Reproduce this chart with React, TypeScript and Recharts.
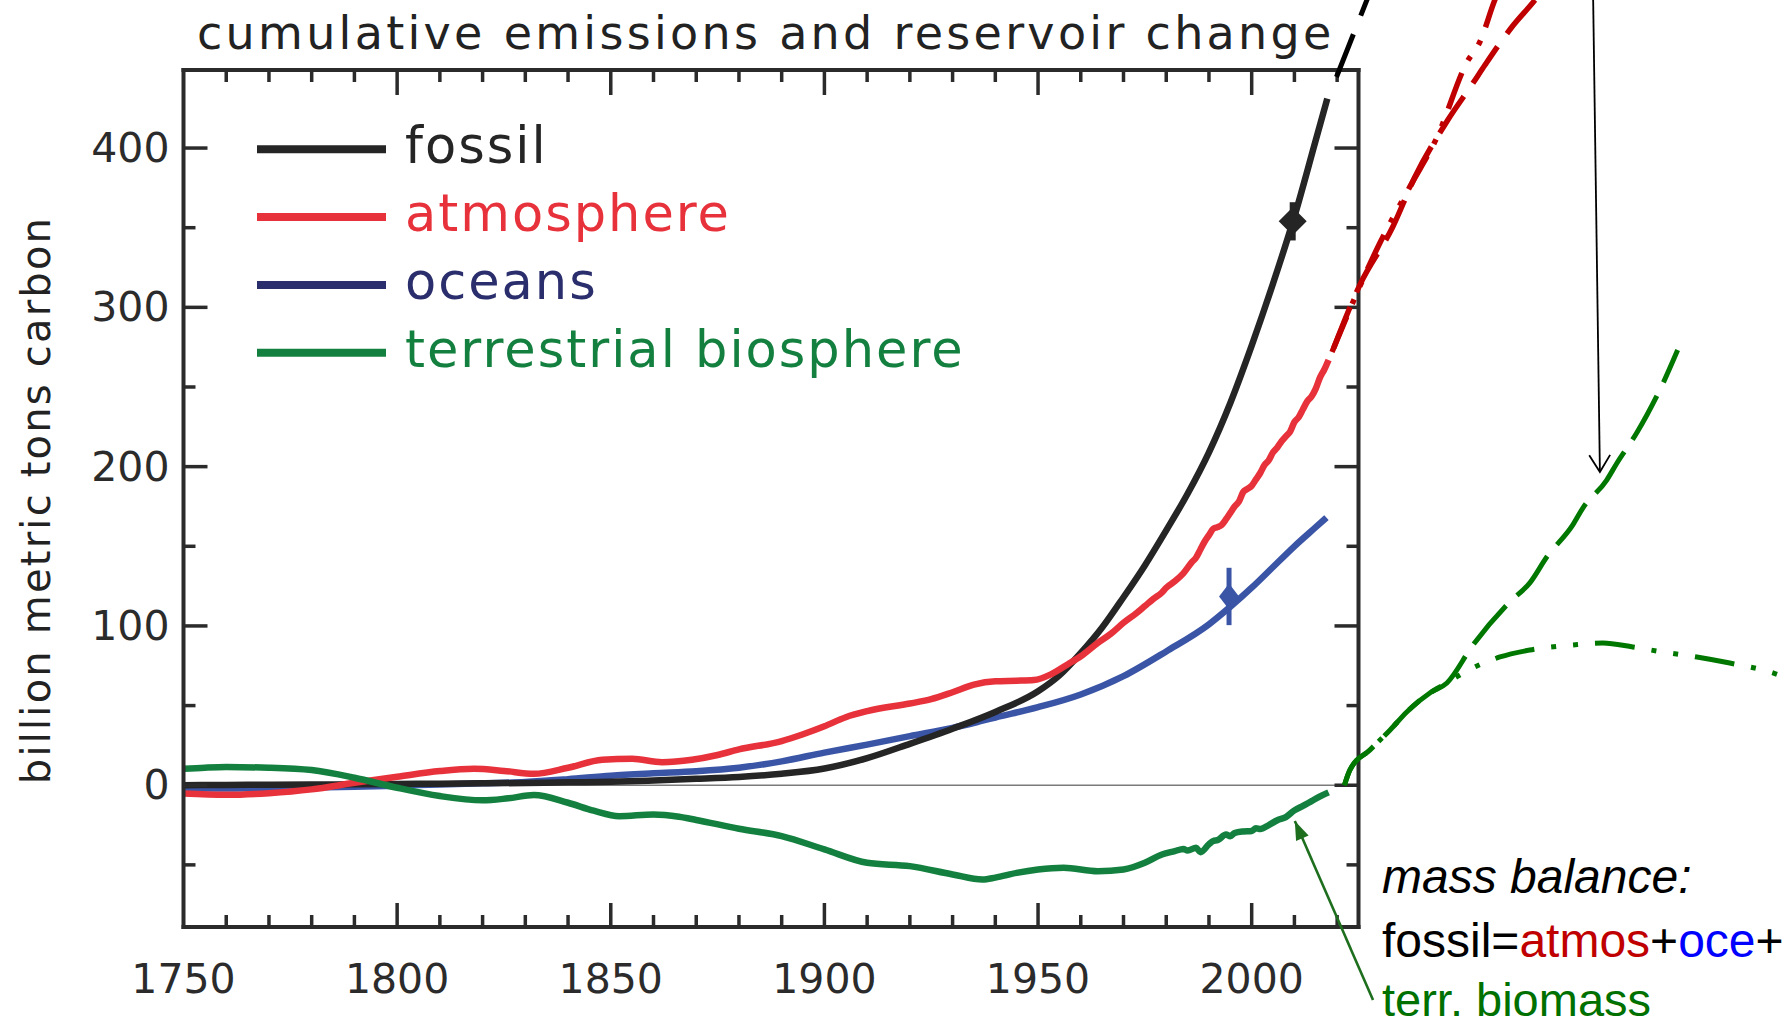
import React from 'react';
import { ComposedChart, LineChart, Line, XAxis, YAxis, ReferenceLine, Scatter, ErrorBar } from 'recharts';

// ---------------- data ----------------
const fossilYears = [1750, 1760, 1770, 1780, 1790, 1800, 1810, 1820, 1830, 1840, 1850, 1860, 1870, 1880, 1890, 1900, 1910, 1920, 1930, 1940, 1950, 1955, 1960, 1965, 1970, 1975, 1980, 1985, 1990, 1995, 2000, 2005, 2010, 2015, 2017.7];
const fossilValues = [0, 0.2, 0.3, 0.4, 0.6, 0.8, 1.0, 1.2, 1.4, 1.8, 2.2, 3.0, 4.0, 5.2, 7.2, 10.5, 17, 26, 35.5, 46, 59, 69, 83, 99, 118, 138, 160, 183, 209, 240, 276, 315, 357, 405, 431];

const atmosYears = [1750, 1760, 1770, 1780, 1790, 1800, 1810, 1818, 1825, 1832, 1840, 1848, 1855, 1862, 1869, 1875, 1880, 1890, 1895, 1900, 1905, 1910, 1920, 1925, 1930, 1935, 1940, 1945, 1949, 1953, 1957, 1960, 1964, 1967, 1970, 1973, 1975, 1977, 1979, 1980, 1982, 1984, 1986, 1987, 1988, 1989, 1990, 1991, 1992, 1993, 1994, 1995, 1996, 1997, 1998, 1999, 2000, 2001, 2002, 2003, 2004, 2005, 2006, 2007, 2008, 2009, 2010, 2011, 2012, 2013, 2014, 2015, 2016, 2017, 2018];
const atmosValues = [-5.2, -6, -5, -2.6, 1.5, 5.3, 8.9, 10.3, 9, 7.2, 11, 16, 16.6, 14.5, 16, 19, 22.5, 27.7, 32, 37, 42.7, 46.5, 51.3, 54, 58.4, 63.2, 65.3, 65.6, 66, 69.6, 76, 81, 89.4, 95, 102, 108, 112.5, 117, 121, 124, 128, 133, 140, 143, 148, 153, 157, 161, 162, 163.5, 167, 171, 175, 178, 184, 186, 188, 192, 196, 201, 204, 209, 212, 216, 219, 222, 228, 231, 236, 241, 244, 249, 256, 261, 267];

const oceanYears = [1750, 1760, 1770, 1780, 1790, 1800, 1810, 1820, 1830, 1840, 1850, 1860, 1870, 1880, 1890, 1900, 1910, 1920, 1930, 1937, 1940, 1950, 1960, 1970, 1980, 1990, 1995, 2000, 2005, 2010, 2015, 2017.5];
const oceanValues = [-2, -2, -1.8, -1.5, -1, -0.3, 0.5, 1.2, 2, 3.8, 6, 7.5, 8.8, 11, 15, 20.5, 25.5, 30.8, 36, 40.5, 42.5, 49, 57, 68.5, 84, 101, 112, 124, 137, 150, 162, 168];

const terrYears = [1750, 1755, 1760, 1770, 1780, 1790, 1800, 1810, 1820, 1826, 1832, 1840, 1846, 1852, 1860, 1866, 1870, 1880, 1890, 1900, 1910, 1920, 1930, 1937, 1940, 1945, 1950, 1956, 1964, 1970, 1975, 1979, 1982, 1984, 1985, 1987, 1988, 1990, 1991, 1992, 1994, 1995, 1996, 1998, 2000, 2001, 2002, 2004, 2006, 2008, 2010, 2012, 2014, 2016, 2018];
const terrValues = [10.3, 11, 11.4, 11, 9.5, 4.7, -1.6, -6.8, -9.5, -8.2, -6.2, -11, -16, -19.4, -18.3, -19.8, -21.8, -27.3, -31.9, -40.3, -48.7, -50.8, -56, -59.2, -58, -55, -52.9, -51.8, -54, -52.9, -48.7, -43.5, -41.4, -40, -41, -39.3, -42, -37, -35, -34.5, -31, -32, -30, -29, -28.7, -27, -27.5, -25, -22, -20, -15.8, -13, -10, -7, -4.5];

// observation markers (year, value, +/- error)
const fossilMarkerYear = [2009.6];
const fossilMarkerValue = [354];
const fossilMarkerErr = [12];
const oceanMarkerYear = [1994.7];
const oceanMarkerValue = [118.5];
const oceanMarkerErr = [18];

// extensions drawn beyond the box
const blackExtYears = [2019.85, 2028.0];
const blackExtValues = [444.6, 500];
const redDashDotYears = [2018.8, 2030.0, 2037.0, 2043.4, 2050.4, 2053.4, 2056.9, 2058.0];
const redDashDotValues = [272.0, 340.4, 375.6, 406.9, 454.0, 466.6, 492.9, 500];
const redDashYears = [2019.2, 2025.3, 2033.0, 2038.2, 2045.9, 2051.8, 2054.6, 2060.9, 2066.3, 2067.5];
const redDashValues = [274.5, 314.0, 350.4, 381.8, 417.6, 440.8, 452.1, 476.0, 492.9, 497];
const greenDashYears = [2021.7, 2023.0, 2027.7, 2032.4, 2036.3, 2041.7, 2045.7, 2051.8, 2060.4, 2065.1, 2069.1, 2075.2, 2077.5, 2083.1, 2085.5, 2090.1, 2092.5, 2096.3, 2099.7];
const greenDashValues = [0, 9.6, 22.2, 34.7, 46.0, 57.9, 64.2, 88.1, 115.1, 127.0, 143.4, 163.6, 174.0, 191.6, 202.3, 221.1, 232.4, 252.5, 273.2];
const greenDashDotYears = [2021.7, 2023.0, 2027.7, 2032.4, 2036.3, 2041.7, 2045.7, 2048.7, 2058.1, 2065.1, 2075.2, 2082.2, 2089.2, 2096.3, 2104.2, 2111.9, 2122.0, 2126.4];
const greenDashDotValues = [0, 9.6, 22.2, 34.7, 46.0, 57.9, 64.2, 69.2, 80.5, 84.9, 88.1, 89.3, 86.8, 83.6, 80.5, 76.7, 70.5, 66.1];

// annotation arrows [year, value]
const blackArrowFrom = [2079.9, 497];
const blackArrowTo = [2081.5, 196.6];
const greenArrowFrom = [2028.4, -134.8];
const greenArrowTo = [2010.1, -22.5];

// ticks
const xTicks = [1750, 1760, 1770, 1780, 1790, 1800, 1810, 1820, 1830, 1840, 1850, 1860, 1870, 1880, 1890, 1900, 1910, 1920, 1930, 1940, 1950, 1960, 1970, 1980, 1990, 2000, 2010, 2020];
const yTicks = [-50, 0, 50, 100, 150, 200, 250, 300, 350, 400];

const legendLabels = ['fossil', 'atmosphere', 'oceans', 'terrestrial biosphere'];

// ---------------- layout / style ----------------
const W = 1791;
const H = 1028;
const BOX = { left: 183.5, top: 70, right: 1358.5, bottom: 927 };
const AXIS_T = 1; // thickness reserved by each axis
const X_DOMAIN: [number, number] = [1750, 2025];
const Y_DOMAIN: [number, number] = [-89, 449];
const pxPerYear = (BOX.right - BOX.left) / (X_DOMAIN[1] - X_DOMAIN[0]);
const pxPerUnit = (BOX.bottom - BOX.top) / (Y_DOMAIN[1] - Y_DOMAIN[0]);
const EXT_X: [number, number] = [X_DOMAIN[0] - BOX.left / pxPerYear, X_DOMAIN[1] + (W - BOX.right) / pxPerYear];
const EXT_Y: [number, number] = [Y_DOMAIN[0] - (H - BOX.bottom) / pxPerUnit, Y_DOMAIN[1] + BOX.top / pxPerUnit];

const AX = '#2b2b2b';
const FONT = "'DejaVu Sans', sans-serif";
const ANN_FONT = "'Liberation Sans', Arial, sans-serif";
const C_FOSSIL = '#252525';
const C_ATMOS = '#e8323b';
const C_OCEAN = '#3a55a6';
const C_OCEAN_LEG = '#2b2e6c';
const C_TERR = '#13803f';
const C_RED_EXT = '#c00000';
const C_GREEN_EXT = '#007800';
const legendColors = [C_FOSSIL, C_ATMOS, C_OCEAN_LEG, C_TERR];
const LW = 6.5;

const rows = (years: number[], values: number[]) => years.map((year, i) => ({ year, v: values[i] }));
const markerRows = (years: number[], values: number[], errs: number[]) =>
  years.map((year, i) => ({ year, v: values[i], err: errs[i] }));

// ---------------- tick renderers ----------------
function BottomTick(props: any) {
  const { x, y, payload } = props;
  const major = payload.value % 50 === 0;
  return (
    <g>
      {payload.value !== X_DOMAIN[0] && (
        <line x1={x} y1={y} x2={x} y2={y - (major ? 24 : 12)} stroke={AX} strokeWidth={3.5} />
      )}
      {major && (
        <text x={x} y={y + 52} textAnchor="middle" dominantBaseline="central" fontSize={41} fontFamily={FONT} fill={AX}>
          {payload.value}
        </text>
      )}
    </g>
  );
}
function TopTick(props: any) {
  const { x, y, payload } = props;
  const major = payload.value % 50 === 0;
  if (payload.value === X_DOMAIN[0]) return <g />;
  return <line x1={x} y1={y} x2={x} y2={y + (major ? 25 : 12)} stroke={AX} strokeWidth={3.5} />;
}
function LeftTick(props: any) {
  const { x, y, payload } = props;
  const major = payload.value % 100 === 0;
  return (
    <g>
      <line x1={x} y1={y} x2={x + (major ? 24 : 12)} y2={y} stroke={AX} strokeWidth={3.5} />
      {major && (
        <text x={x - 14} y={y} textAnchor="end" dominantBaseline="central" fontSize={41} fontFamily={FONT} fill={AX}>
          {payload.value}
        </text>
      )}
    </g>
  );
}
function RightTick(props: any) {
  const { x, y, payload } = props;
  const major = payload.value % 100 === 0;
  return <line x1={x} y1={y} x2={x - (major ? 24 : 12)} y2={y} stroke={AX} strokeWidth={3.5} />;
}

const diamond = (color: string, hw: number, hh: number) => (p: any) => {
  const { cx, cy } = p;
  if (cx == null || cy == null) return <g />;
  return <path d={`M${cx},${cy - hh}L${cx + hw},${cy}L${cx},${cy + hh}L${cx - hw},${cy}Z`} fill={color} />;
};

const arrowShape = (color: string, width: number, filled: boolean, len: number, half: number) => (p: any) => {
  const { x1, y1, x2, y2 } = p;
  const ang = Math.atan2(y2 - y1, x2 - x1);
  const ax = x2 - len * Math.cos(ang - half);
  const ay = y2 - len * Math.sin(ang - half);
  const bx = x2 - len * Math.cos(ang + half);
  const by = y2 - len * Math.sin(ang + half);
  return (
    <g>
      <line x1={x1} y1={y1} x2={x2} y2={y2} stroke={color} strokeWidth={width} />
      {filled ? (
        <path d={`M${x2},${y2}L${ax},${ay}L${bx},${by}Z`} fill={color} />
      ) : (
        <path d={`M${ax},${ay}L${x2},${y2}L${bx},${by}`} fill="none" stroke={color} strokeWidth={width} />
      )}
    </g>
  );
};

const axisLineStyle = { stroke: AX, strokeWidth: 4, strokeLinecap: 'square' as const };

export default function App() {
  const fossil = rows(fossilYears, fossilValues);
  const atmos = rows(atmosYears, atmosValues);
  const ocean = rows(oceanYears, oceanValues);
  const terr = rows(terrYears, terrValues);
  const fossilMarker = markerRows(fossilMarkerYear, fossilMarkerValue, fossilMarkerErr);
  const oceanMarker = markerRows(oceanMarkerYear, oceanMarkerValue, oceanMarkerErr);

  const legendY0 = 149.3;
  const legendDy = 67.8;

  return (
    <div style={{ position: 'absolute', left: 0, top: 0, width: W, height: H, background: '#fff', overflow: 'hidden' }}>
      <div style={{ position: 'absolute', left: 0, top: 0 }}>
        <ComposedChart
          width={W}
          height={H}
          margin={{
            top: BOX.top - AXIS_T,
            right: W - BOX.right - AXIS_T,
            bottom: H - BOX.bottom - AXIS_T,
            left: BOX.left - AXIS_T,
          }}
        >
          <XAxis type="number" dataKey="year" domain={X_DOMAIN} allowDataOverflow ticks={xTicks} interval={0}
            height={AXIS_T} tickSize={0} tickMargin={0} tickLine={false} axisLine={axisLineStyle} tick={BottomTick} />
          <XAxis xAxisId="top" orientation="top" type="number" dataKey="year" domain={X_DOMAIN} allowDataOverflow
            ticks={xTicks} interval={0} height={AXIS_T} tickSize={0} tickMargin={0} tickLine={false} axisLine={axisLineStyle} tick={TopTick} />
          <YAxis type="number" domain={Y_DOMAIN} allowDataOverflow ticks={yTicks} interval={0} width={AXIS_T}
            tickSize={0} tickMargin={0} tickLine={false} axisLine={axisLineStyle} tick={LeftTick} />
          <YAxis yAxisId="right" orientation="right" type="number" domain={Y_DOMAIN} allowDataOverflow ticks={yTicks}
            interval={0} width={AXIS_T} tickSize={0} tickMargin={0} tickLine={false} axisLine={axisLineStyle} tick={RightTick} />
          <ReferenceLine y={0} stroke="#7a7a7a" strokeWidth={1.6} />
          <Line data={ocean} dataKey="v" type="monotone" stroke={C_OCEAN} strokeWidth={LW} dot={false} activeDot={false} isAnimationActive={false} />
          <Line data={fossil} dataKey="v" type="monotone" stroke={C_FOSSIL} strokeWidth={LW} dot={false} activeDot={false} isAnimationActive={false} />
          <Line data={atmos} dataKey="v" type="monotone" stroke={C_ATMOS} strokeWidth={LW} dot={false} activeDot={false} isAnimationActive={false} />
          <Line data={terr} dataKey="v" type="monotone" stroke={C_TERR} strokeWidth={LW} dot={false} activeDot={false} isAnimationActive={false} />
          <Scatter data={fossilMarker} dataKey="v" shape={diamond(C_FOSSIL, 14, 14)} isAnimationActive={false}>
            <ErrorBar dataKey="err" direction="y" width={0} stroke={C_FOSSIL} strokeWidth={6} />
          </Scatter>
          <Scatter data={oceanMarker} dataKey="v" shape={diamond(C_OCEAN, 10, 13)} isAnimationActive={false}>
            <ErrorBar dataKey="err" direction="y" width={0} stroke={C_OCEAN} strokeWidth={5} />
          </Scatter>
        </ComposedChart>
      </div>

      <div style={{ position: 'absolute', left: 0, top: 0, pointerEvents: 'none' }}>
        <LineChart width={W} height={H} margin={{ top: 0, right: 0, bottom: 0, left: 0 }}>
          <XAxis hide type="number" dataKey="year" domain={EXT_X} allowDataOverflow height={0} />
          <YAxis hide type="number" domain={EXT_Y} allowDataOverflow width={0} />
          <Line data={rows(blackExtYears, blackExtValues)} dataKey="v" type="linear" stroke="#000" strokeWidth={5}
            strokeDasharray="46 20" dot={false} activeDot={false} isAnimationActive={false} />
          <Line data={rows(redDashYears, redDashValues)} dataKey="v" type="monotone" stroke={C_RED_EXT} strokeWidth={5.5}
            strokeDasharray="44 16" dot={false} activeDot={false} isAnimationActive={false} />
          <Line data={rows(redDashDotYears, redDashDotValues)} dataKey="v" type="monotone" stroke={C_RED_EXT} strokeWidth={5.5}
            strokeDasharray="38 14 5 14 5 14" dot={false} activeDot={false} isAnimationActive={false} />
          <Line data={rows(greenDashYears, greenDashValues)} dataKey="v" type="monotone" stroke={C_GREEN_EXT} strokeWidth={5}
            strokeDasharray="50 15" dot={false} activeDot={false} isAnimationActive={false} />
          <Line data={rows(greenDashDotYears, greenDashDotValues)} dataKey="v" type="monotone" stroke={C_GREEN_EXT} strokeWidth={5}
            strokeDasharray="40 17 5 17 5 17" dot={false} activeDot={false} isAnimationActive={false} />
          <ReferenceLine
            segment={[{ x: blackArrowFrom[0], y: blackArrowFrom[1] }, { x: blackArrowTo[0], y: blackArrowTo[1] }]}
            ifOverflow="visible"
            shape={arrowShape('#000', 1.8, false, 20, 0.55)}
          />
          <ReferenceLine
            segment={[{ x: greenArrowFrom[0], y: greenArrowFrom[1] }, { x: greenArrowTo[0], y: greenArrowTo[1] }]}
            ifOverflow="visible"
            shape={arrowShape('#1d6e1d', 2.6, true, 20, 0.35)}
          />
        </LineChart>
      </div>

      <svg width={W} height={H} style={{ position: 'absolute', left: 0, top: 0, pointerEvents: 'none' }}>
        <text x={197} y={49} fontSize={46} letterSpacing={3.3} fontFamily={FONT} fill="#222">
          cumulative emissions and reservoir change
        </text>
        <text transform="translate(50,500) rotate(-90)" textAnchor="middle" fontSize={40} letterSpacing={2.2}
          fontFamily={FONT} fill="#222">
          billion metric tons carbon
        </text>
        {legendLabels.map((label, i) => (
          <g key={label}>
            <line x1={257} x2={386} y1={legendY0 + i * legendDy} y2={legendY0 + i * legendDy}
              stroke={legendColors[i]} strokeWidth={8} />
            <text x={405} y={legendY0 + i * legendDy + 14} fontSize={51} letterSpacing={2} fontFamily={FONT}
              fill={legendColors[i]}>
              {label}
            </text>
          </g>
        ))}
        <text x={1382} y={893} fontSize={48} fontStyle="italic" fontFamily={ANN_FONT} fill="#000">
          mass balance:
        </text>
        <text x={1382} y={957} fontSize={48} fontFamily={ANN_FONT} fill="#000">
          <tspan>fossil=</tspan>
          <tspan fill="#c00000">atmos</tspan>
          <tspan>+</tspan>
          <tspan fill="#0000ff">oce</tspan>
          <tspan>+</tspan>
        </text>
        <text x={1382} y={1016} fontSize={47} fontFamily={ANN_FONT} fill="#007000">
          terr. biomass
        </text>
      </svg>
    </div>
  );
}
